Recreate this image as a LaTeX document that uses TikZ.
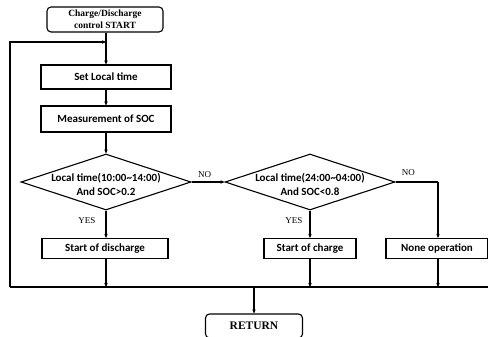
\documentclass[tikz,border=0pt]{standalone}
\usepackage{fontspec}
\setmainfont{Liberation Serif}
\newfontfamily\boxfont{Carlito}
\usetikzlibrary{arrows.meta,shapes.geometric}
\begin{document}
\begin{tikzpicture}[x=1pt,y=-1pt,
  line width=1.1pt,
  arr/.style={-{Stealth[length=4pt,width=3.5pt]}},
  proc/.style={draw,rectangle,inner sep=0pt,font=\boxfont\bfseries\fontsize{11}{13}\selectfont},
  term/.style={draw,rectangle,rounded corners=4pt,inner sep=0pt,align=center},
  dia/.style={draw,diamond,inner sep=0pt,minimum width=170pt,minimum height=56pt},
  dtext/.style={align=center,inner sep=0pt,font=\boxfont\bfseries\fontsize{11}{14}\selectfont},
  lbl/.style={inner sep=0pt,font=\fontsize{9}{10}\selectfont}]
\useasboundingbox (0,0) rectangle (488,337);

% terminals
\node[term,minimum width=116pt,minimum height=25pt,font=\bfseries\fontsize{9.5}{11.5}\selectfont] (start) at (105,19.5)
  {Charge/Discharge\\control START};
\node[term,minimum width=97pt,minimum height=24pt,font=\bfseries\fontsize{11.5}{12}\selectfont] (ret) at (254,326) {RETURN};

% process boxes
\node[proc,minimum width=130pt,minimum height=24pt] (setlt) at (106,77) {Set Local time};
\node[proc,minimum width=130pt,minimum height=26pt] (meas) at (106,119) {Measurement of SOC};

% decisions
\node[dia,label={[dtext,yshift=-2pt]center:Local time(10:00\textasciitilde14:00)\\And SOC>0.2}] (d1) at (106,182) {};
\node[dia,label={[dtext,yshift=-2pt]center:Local time(24:00\textasciitilde04:00)\\And SOC<0.8}] (d2) at (310,182) {};

% actions
\node[proc,minimum width=126pt,minimum height=20pt] (dis) at (105,248.5) {Start of discharge};
\node[proc,minimum width=92pt,minimum height=20pt] (chg) at (310,248.5) {Start of charge};
\node[proc,minimum width=102pt,minimum height=20pt] (none) at (437,248.5) {None operation};

% helper points
\coordinate (loop) at (106,42);
\coordinate (busL) at (10,287);
\coordinate (busR) at (490,287);
\coordinate (turn) at (438,182);
\coordinate (b1) at (106,287);
\coordinate (b2) at (310,287);
\coordinate (b3) at (438,287);
\coordinate (bret) at (254,287);

% main flow
\draw[arr] (start.south -| loop) -- (setlt.north -| loop);
\draw[arr] (setlt) -- (meas);
\draw[arr] (meas) -- (d1);
\draw[arr] (d1.east) -- node[lbl,above=4pt,pos=0.4]{NO} (d2.west);
\draw[arr] (d1.south) -- node[lbl,left=10pt,pos=0.35]{YES} (dis.north -| d1.south);
\draw[arr] (d2.south) -- node[lbl,left=7pt,pos=0.35]{YES} (chg.north);
\draw (d2.east) -- node[lbl,above=6pt,pos=0.3]{NO} (turn);
\draw[arr] (turn) -- (none.north -| turn);

% collecting bus
\draw (busL) -- (busR);
\draw[arr] (dis.south -| b1) -- (b1);
\draw[arr] (chg.south) -- (b2);
\draw[arr] (none.south -| b3) -- (b3);
\draw[arr] (bret) -- (ret.north);

% loop back to the top
\draw[arr] (busL) |- (loop);
\end{tikzpicture}
\end{document}
